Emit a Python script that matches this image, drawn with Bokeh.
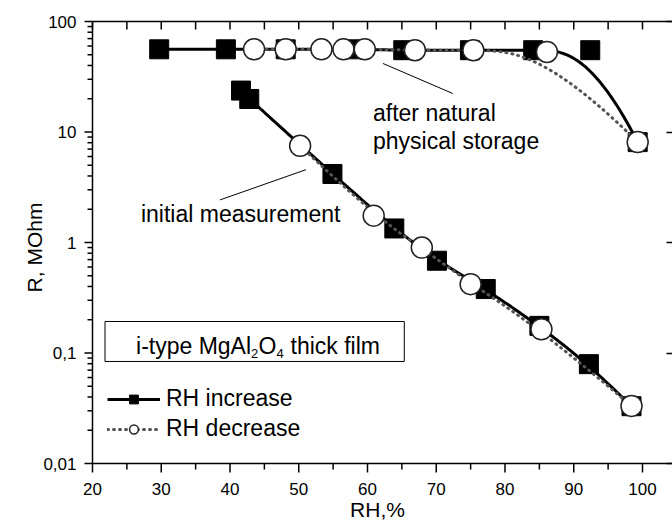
import numpy as np
from bokeh.plotting import figure
from bokeh.models import (FixedTicker, LinearAxis, LogAxis, CustomJSTickFormatter, Label,
                          BoxAnnotation, Legend, LegendItem, Range1d)
from bokeh.embed import file_html
from bokeh.resources import INLINE

# ---------------- data ----------------
init_inc_x = [41.6, 42.8, 54.9, 63.9, 70.1, 77.2, 85.0, 92.2, 98.4]
init_inc_y = [23.7, 19.9, 4.17, 1.34, 0.684, 0.379, 0.176, 0.0793, 0.033]
init_dec_x = [50.2, 60.9, 67.9, 75.0, 85.3, 98.4]
init_dec_y = [7.5, 1.75, 0.90, 0.42, 0.164, 0.0332]
stor_inc_x = [29.7, 39.4, 48.1, 57.8, 65.2, 74.9, 84.1, 92.4, 99.3]
stor_inc_y = [56, 56, 56, 56, 55, 55, 55, 55, 8.1]
stor_dec_x = [43.5, 48.1, 53.3, 56.5, 59.6, 66.9, 75.4, 86.1, 99.3]
stor_dec_y = [56, 56, 56, 56, 56, 55, 55, 53, 8.1]

x_ticks = [20, 30, 40, 50, 60, 70, 80, 90, 100]
x_minor = [25, 35, 45, 55, 65, 75, 85, 95]
x_top_ticks = [20, 25, 30, 35, 40, 45, 50, 55, 60, 65, 70, 75, 80, 85, 90, 95, 100]
y_ticks = [0.01, 0.1, 1, 10, 100]
y_minor = [m * d for d in [0.01, 0.1, 1, 10] for m in range(2, 10)]

FONT = "Liberation Sans"

# ---------------- geometry (pixels) ----------------
W, H = 672, 527
FRAME_LEFT, FRAME_TOP, FRAME_BOTTOM = 82, 21, 54     # borders
PAD = 10                                             # frame extends beyond the axis box
PX_X = 6.875                                         # px per RH unit
DEC = 110.5                                          # px per decade
X0, Y0, Y1 = 20, 0.01, 100                           # axis box origin / top
x_start = X0 - PAD / PX_X
x_end = x_start + (W - FRAME_LEFT) / PX_X
y_start = Y0 * 10 ** (-PAD / DEC)


def bspline(xs, ys, n=300):
    """Clamped cubic B-spline with the data points as control points (log-y space)."""
    P = np.column_stack([np.asarray(xs, float), np.log10(np.asarray(ys, float))])
    m = len(P)
    k = min(3, m - 1)
    knots = np.concatenate([np.zeros(k + 1), np.arange(1, m - k), np.full(k + 1, m - k)]).astype(float)
    t = np.linspace(0, m - k, n)
    N = np.zeros((n, len(knots) - 1))
    for i in range(len(knots) - 1):
        N[:, i] = (t >= knots[i]) & (t < knots[i + 1])
    N[-1, :] = 0
    N[-1, m - 1] = 1
    for d in range(1, k + 1):
        newN = np.zeros((n, len(knots) - 1 - d))
        for i in range(len(knots) - 1 - d):
            a = np.zeros(n)
            den = knots[i + d] - knots[i]
            if den > 0:
                a += (t - knots[i]) / den * N[:, i]
            den2 = knots[i + d + 1] - knots[i + 1]
            if den2 > 0:
                a += (knots[i + d + 1] - t) / den2 * N[:, i + 1]
            newN[:, i] = a
        N = newN
    C = N @ P
    return C[:, 0], 10 ** C[:, 1]


p = figure(width=W, height=H, x_range=Range1d(x_start, x_end), y_range=Range1d(y_start, Y1),
           y_axis_type="log", x_axis_location=None, y_axis_location=None,
           output_backend="svg", toolbar_location=None,
           min_border_left=FRAME_LEFT, min_border_right=0, min_border_top=FRAME_TOP,
           min_border_bottom=FRAME_BOTTOM)
p.grid.visible = False
p.outline_line_color = None

EMPTY = "return '';"

# top axis: frame line (ticks drawn below as glyphs)
top = LinearAxis(ticker=FixedTicker(ticks=x_top_ticks), formatter=CustomJSTickFormatter(code=EMPTY),
                 major_tick_in=0, major_tick_out=0, minor_tick_in=0, minor_tick_out=0,
                 major_label_standoff=0, axis_label_standoff=0, bounds=(X0, x_end),
                 axis_line_width=1.5)
p.add_layout(top, "above")

# right axis: inward ticks only (the frame edge lies at the window edge)
right = LogAxis(ticker=FixedTicker(ticks=y_ticks), formatter=CustomJSTickFormatter(code=EMPTY),
                major_tick_in=6, major_tick_out=0, minor_tick_in=0, minor_tick_out=0,
                major_label_standoff=0, axis_label_standoff=0,
                axis_line_color=None, major_tick_line_width=1.5)
p.add_layout(right, "right")

# bottom axis: labels only (rule and ticks drawn as glyphs at the axis box)
bottom = LinearAxis(ticker=FixedTicker(ticks=x_ticks, minor_ticks=x_minor),
                    major_tick_out=0, major_tick_in=0, minor_tick_out=0, minor_tick_in=0,
                    axis_line_color=None, major_label_standoff=9, major_label_text_font=FONT,
                    major_label_text_font_size="17px", major_label_text_color="black",
                    axis_label="RH,%", axis_label_text_font=FONT,
                    axis_label_text_font_size="21px", axis_label_text_font_style="normal",
                    axis_label_text_color="black", axis_label_standoff=0)
p.add_layout(bottom, "below")

# left axis: labels only
left = LogAxis(ticker=FixedTicker(ticks=y_ticks, minor_ticks=y_minor),
               formatter=CustomJSTickFormatter(code="return tick.toString().replace('.', ',');"),
               major_tick_out=0, major_tick_in=0, minor_tick_out=0, minor_tick_in=0,
               axis_line_color=None, major_label_standoff=6, major_label_text_font=FONT,
               major_label_text_font_size="17px", major_label_text_color="black",
               axis_label="R, MOhm", axis_label_text_font=FONT,
               axis_label_text_font_size="21px", axis_label_text_font_style="normal",
               axis_label_text_color="black", axis_label_standoff=-6)
p.add_layout(left, "left")

# axis box lines and tick marks (drawn from the tick lists through the plot scales),
# painted at overlay level so that nothing drawn later hides them
TICK = dict(line_color="black", line_width=1.5, level="overlay")
p.segment(x0=[X0, X0], y0=[Y0, Y0], x1=[X0, x_end], y1=[Y1, Y0], **TICK)
p.segment(x0=[X0] * len(y_ticks), y0=y_ticks, x1=[X0 - 8 / PX_X] * len(y_ticks), y1=y_ticks, **TICK)
p.segment(x0=[X0] * len(y_minor), y0=y_minor, x1=[X0 - 5 / PX_X] * len(y_minor), y1=y_minor, **TICK)
p.segment(x0=x_ticks, y0=[Y0] * len(x_ticks), x1=x_ticks,
          y1=[Y0 * 10 ** (-9 / DEC)] * len(x_ticks), **TICK)
p.segment(x0=x_minor, y0=[Y0] * len(x_minor), x1=x_minor,
          y1=[Y0 * 10 ** (-6 / DEC)] * len(x_minor), **TICK)
p.segment(x0=x_top_ticks, y0=[Y1] * len(x_top_ticks), x1=x_top_ticks,
          y1=[Y1 * 10 ** (-8 / DEC)] * len(x_top_ticks), **TICK)

# ---------------- curves ----------------
SOLID = dict(line_color="black", line_width=3)
DOTTED = dict(line_color="#555555", line_width=3, line_dash="1 5", line_cap="round")
SQ = dict(marker="square", size=19, fill_color="black", line_color="black", line_width=1)
CI = dict(marker="circle", size=21, fill_color="white", line_color="#222222", line_width=1.5)

for xs, ys in [(init_inc_x, init_inc_y), (stor_inc_x, stor_inc_y)]:
    bx, by = bspline(xs, ys)
    p.line(bx, by, **SOLID)
for xs, ys in [(init_inc_x, init_inc_y), (stor_inc_x, stor_inc_y)]:
    p.scatter(xs, ys, **SQ)
for xs, ys in [(init_dec_x, init_dec_y), (stor_dec_x, stor_dec_y)]:
    bx, by = bspline(xs, ys)
    p.line(bx, by, **DOTTED)
for xs, ys in [(init_dec_x, init_dec_y), (stor_dec_x, stor_dec_y)]:
    p.scatter(xs, ys, **CI)

# ---------------- annotations ----------------
TXT = dict(text_font=FONT, text_font_size="23px", text_color="black", text_baseline="alphabetic")
p.add_layout(Label(x=60.8, y=15.0, text="after natural", **TXT))
p.add_layout(Label(x=60.8, y=8.36, text="physical storage", **TXT))
p.add_layout(Label(x=27.05, y=1.82, text="initial measurement", **TXT))
# leader lines
p.segment(x0=[62.25, 38.55], y0=[41.7, 2.43], x1=[72.4, 51.05], y1=[22.3, 4.56],
          line_color="black", line_width=1)

# sample box
p.add_layout(BoxAnnotation(left=21.82, right=65.35, top=0.1928, bottom=0.0838,
                           fill_color="white", fill_alpha=1, line_color="black", line_alpha=1,
                           line_width=1))
bx0, by0 = 26.33, 0.1
parts = [("i-type MgAl", 0, 7, "23px"), ("2", 115, 0, "13px"), ("O", 122.5, 7, "23px"),
         ("4", 140.4, 0, "13px"), ("thick film", 154.5, 7, "23px")]
for t, dx, dy, fs in parts:
    p.add_layout(Label(x=bx0, y=by0, x_offset=dx, y_offset=dy, text=t, text_font=FONT,
                       text_font_size=fs, text_color="black", text_baseline="alphabetic"))

# legend (hidden renderers with smaller markers; NaN data so nothing is drawn in the plot)
nan = [float("nan")]
l1 = p.line(nan, nan, **SOLID)
m1 = p.scatter(nan, nan, marker="square", size=12, fill_color="black", line_color="black")
l2 = p.line(nan, nan, **DOTTED)
m2 = p.scatter(nan, nan, marker="circle", size=13, fill_color="white", line_color="#222222", line_width=1.5)
legend = Legend(items=[LegendItem(label="RH increase", renderers=[l1, m1]),
                       LegendItem(label="RH decrease", renderers=[l2, m2])],
                location=(15 + PAD, 21 + PAD), glyph_width=53, glyph_height=22, label_standoff=6,
                label_text_font=FONT, label_text_font_size="23px", label_text_color="black",
                padding=0, margin=0, spacing=3, border_line_color=None, background_fill_alpha=0)
p.add_layout(legend)

open("out.html", "w").write(file_html(p, INLINE))
